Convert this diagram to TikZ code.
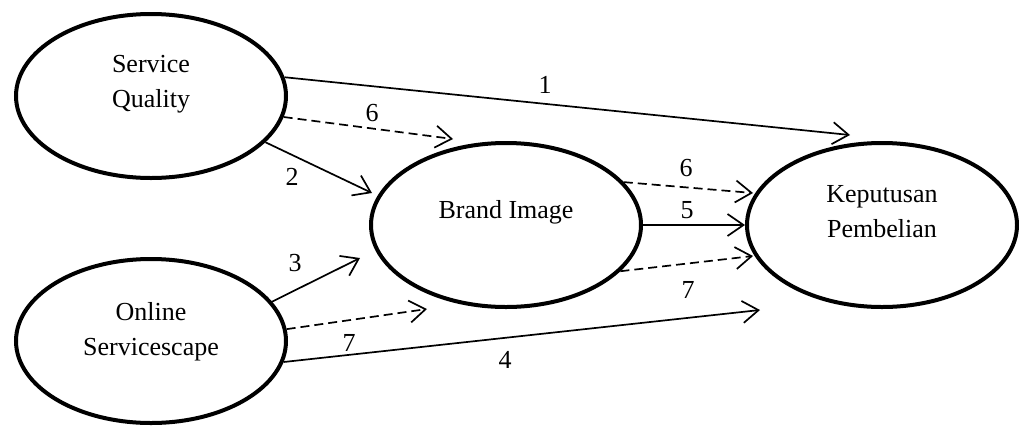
\documentclass[tikz,border=0pt]{standalone}
\usepackage{fontspec}
\setmainfont{Liberation Serif}
\usetikzlibrary{arrows.meta,shapes.geometric}
\begin{document}
\begin{tikzpicture}[x=1pt,y=-1pt,
  var/.style={ellipse,draw,line width=4pt,minimum width=270pt,minimum height=164pt,inner sep=0pt},
  txt/.style={font=\fontsize{26}{35}\selectfont,align=center,inner sep=0pt},
  num/.style={font=\fontsize{26}{30}\selectfont,inner sep=0pt},
  conn/.style={line width=1.7pt,-{Straight Barb[length=16pt,width=22pt,line width=1.7pt]}},
  ind/.style={conn,dash pattern=on 9pt off 5pt}]
\useasboundingbox (0,0) rectangle (1019,426);
\node[var] (sq) at (151,96) {};
\node[var] (os) at (151,341) {};
\node[var] (bi) at (506,225) {};
\node[var] (kp) at (882,225) {};
\node[txt] (sqt) at (151,84) {Service\\Quality};
\node[txt] (ost) at (151,332) {Online\\Servicescape};
\node[txt] (bit) at (506,212) {Brand Image};
\node[txt] (kpt) at (882,212) {Keputusan\\Pembelian};
% arrow tips
\coordinate (e1) at ([shift={(-32,-90)}]kp.center);
\coordinate (e6b) at ([shift={(-129,-32)}]kp.center);
\coordinate (e5) at ([shift={(-137,0)}]kp.center);
\coordinate (e7b) at ([shift={(-129,31)}]kp.center);
\coordinate (e4) at ([shift={(-122,85)}]kp.center);
\coordinate (e6a) at ([shift={(-53,-86)}]bi.center);
\coordinate (e2) at ([shift={(-134,-32)}]bi.center);
\coordinate (e3) at ([shift={(-146,33)}]bi.center);
\coordinate (e7a) at ([shift={(-79,84)}]bi.center);
% connectors
\draw[conn] (sq.8) -- (e1);
\draw[ind] (sq.-9) -- (e6a);
\draw[conn] (sq.-22) -- (e2);
\draw[conn] (os.18) -- (e3);
\draw[ind] (os.5) -- (e7a);
\draw[conn] (os.-9.6) -- (e4);
\draw[conn] (bi.0) -- (e5);
\draw[ind] (bi.20) -- (e6b);
\draw[ind] (bi.-22.8) -- (e7b);
% labels
\node[num] (l1) at (545,85) {1};
\node[num] (l6a) at (372,113) {6};
\node[num] (l2) at (292,177) {2};
\node[num] (l3) at (295,263) {3};
\node[num] (l7a) at (349,343) {7};
\node[num] (l4) at (505,360) {4};
\node[num] (l5) at (687,210) {5};
\node[num] (l6b) at (686,168) {6};
\node[num] (l7b) at (688,290) {7};
\end{tikzpicture}
\end{document}
